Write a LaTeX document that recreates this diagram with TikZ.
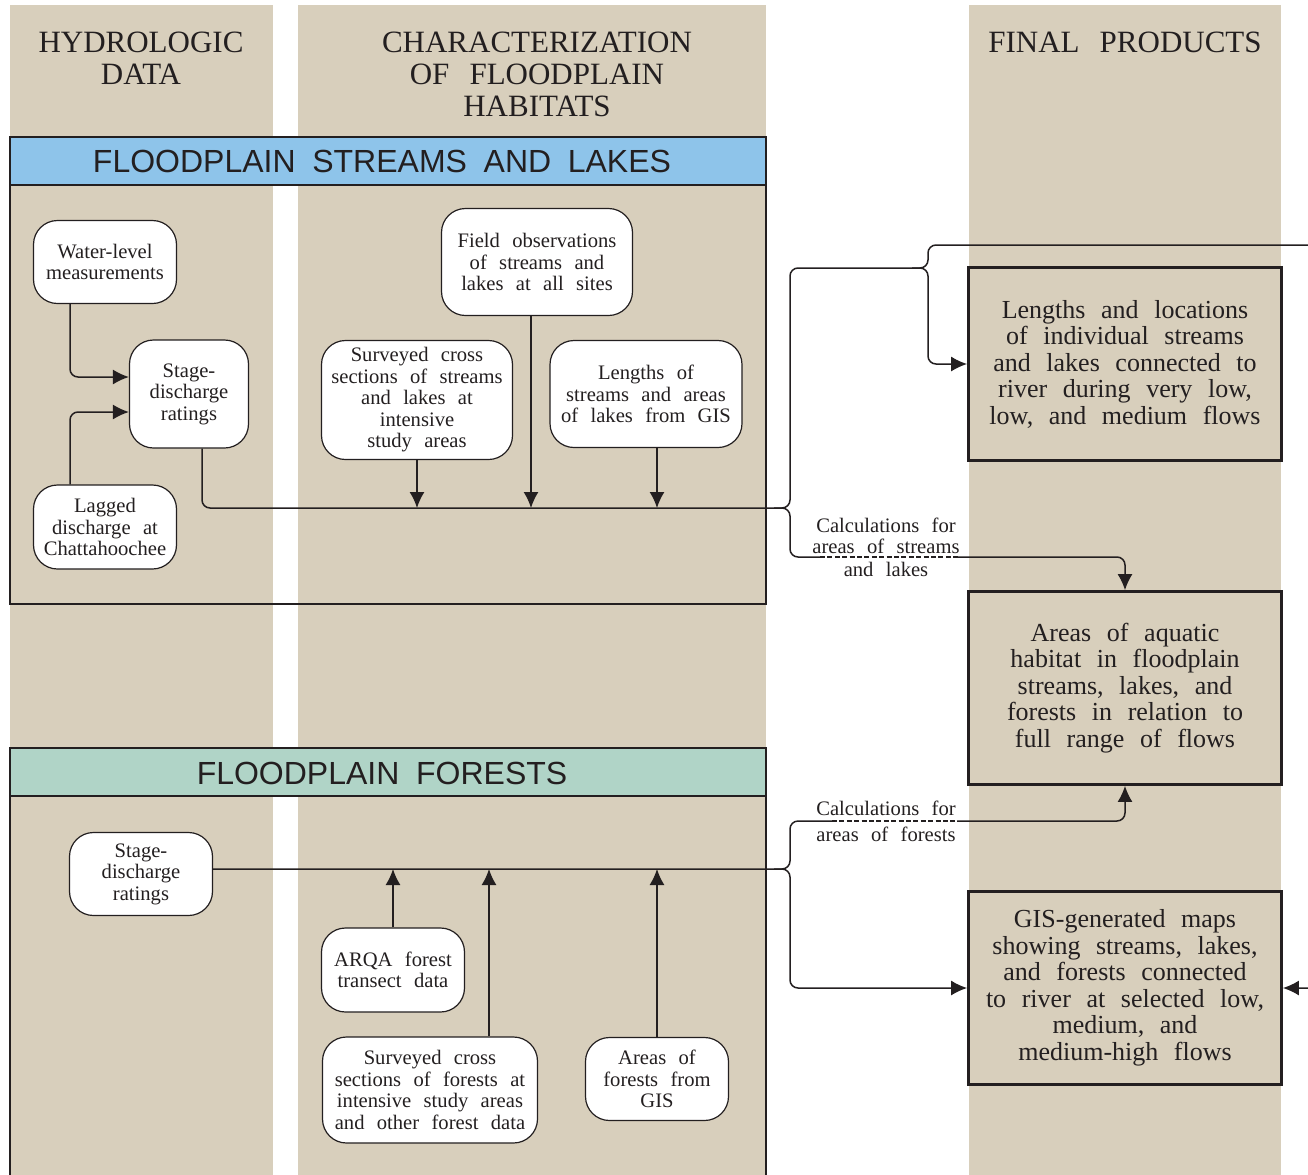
\documentclass[tikz,border=0pt]{standalone}
\usepackage{fontspec}
\setmainfont{Liberation Serif}
\setsansfont{Liberation Sans}
\usetikzlibrary{arrows.meta, positioning, calc}
\definecolor{ctan}{HTML}{D8CFBC}
\definecolor{cblue}{HTML}{8EC4EA}
\definecolor{cgreen}{HTML}{B0D4C7}
\definecolor{cink}{HTML}{231F20}
\newcommand\nodefont{\fontsize{10.3}{10.75}\selectfont\spaceskip=0.6em\relax}
\newcommand\prodfont{\fontsize{13}{13.25}\selectfont\spaceskip=0.6em\relax}
\newcommand\colheadfont{\fontsize{15.5}{16}\selectfont\spaceskip=0.65em\relax}
\newcommand\bannerfont{\sffamily\fontsize{16}{18}\selectfont\spaceskip=0.52em\relax}
\tikzset{
  every picture/.style={line width=0.75pt, color=cink},
  inbox/.style={draw=cink, fill=white, rounded corners=12pt, align=center, inner sep=0pt, line width=0.6pt, font=\nodefont},
  prodbox/.style={draw=cink, fill=ctan, line width=1.4pt, align=center, inner sep=0pt, minimum width=156.5pt, minimum height=96.5pt, font=\prodfont},
  colhead/.style={align=center, font=\colheadfont},
  banner/.style={font=\bannerfont},
  calcnote/.style={align=center, font=\nodefont},
  frame/.style={draw=cink, line width=1.4pt},
  conn/.style={line width=0.75pt, rounded corners=4pt},
  arrow/.style={conn, -{Latex[length=8pt, width=7.5pt]}},
  dashpart/.style={line width=0.75pt, dash pattern=on 2.5pt off 1.2pt},
}
\begin{document}
\begin{tikzpicture}[x=0.5pt, y=-0.5pt]
  \useasboundingbox (0,0) rectangle (1308,1174);
  % columns
  \fill[ctan] (10,5) rectangle (273,1190);
  \fill[ctan] (298,5) rectangle (766,1190);
  \fill[ctan] (969,5) rectangle (1281,1190);
  \node[colhead] (hhyd) at (141,58) {HYDROLOGIC\\DATA};
  \node[colhead] (hchar) at (537,74) {CHARACTERIZATION\\OF FLOODPLAIN\\HABITATS};
  \node[colhead] (hfin) at (1125,42) {FINAL PRODUCTS};
  % streams and lakes panel
  \draw[frame] (10,137) rectangle (766,604);
  \draw[frame, fill=cblue] (10,137) rectangle (766,185);
  \node[banner] (bstream) at (382,161) {FLOODPLAIN STREAMS AND LAKES};
  % forests panel
  \draw[frame] (10,748) rectangle (766,1200);
  \draw[frame, fill=cgreen] (10,748) rectangle (766,796);
  \node[banner] (bforest) at (382,773) {FLOODPLAIN FORESTS};

  \node[inbox, minimum width=71.5pt, minimum height=41.5pt] (wlm) at (105,262) {Water-level\\measurements};
  \node[inbox, minimum width=59.5pt, minimum height=54pt] (sdr) at (189,394) {Stage-\\discharge\\ratings};
  \node[inbox, minimum width=71.5pt, minimum height=42pt] (lag) at (105,527) {Lagged\\discharge at\\Chattahoochee};
  \node[inbox, minimum width=95.5pt, minimum height=53.5pt] (fobs) at (537,262) {Field observations\\of streams and\\lakes at all sites};
  \node[inbox, minimum width=95.5pt, minimum height=59.5pt] (xsec) at (417,400) {Surveyed cross\\sections of streams\\and lakes at\\intensive\\study areas};
  \node[inbox, minimum width=96pt, minimum height=53.5pt] (lgis) at (646,394) {Lengths of\\streams and areas\\of lakes from GIS};

  \node[inbox, minimum width=71.5pt, minimum height=41.5pt] (sdr2) at (141,874) {Stage-\\discharge\\ratings};
  \node[inbox, minimum width=71.5pt, minimum height=42pt] (arqa) at (393,970) {ARQA forest\\transect data};
  \node[inbox, minimum width=107.5pt, minimum height=53pt] (xfor) at (430,1090) {Surveyed cross\\sections of forests at\\intensive study areas\\and other forest data};
  \node[inbox, minimum width=71.5pt, minimum height=41.5pt] (agis) at (657,1079) {Areas of\\forests from\\GIS};

  \node[prodbox] (prod1) at (1125,364) {Lengths and locations\\of individual streams\\and lakes connected to\\river during very low,\\low, and medium flows};
  \node[prodbox] (prod2) at (1125,688) {Areas of aquatic\\habitat in floodplain\\streams, lakes, and\\forests in relation to\\full range of flows};
  \node[prodbox] (prod3) at (1125,988) {GIS-generated maps\\showing streams, lakes,\\and forests connected\\to river at selected low,\\medium, and\\medium-high flows};

  \coordinate (jstream) at (790,508);
  \coordinate (jup) at (928,268);
  \coordinate (rloop) at (1316,245);
  \coordinate (cs1) at (820,557);
  \coordinate (cs2) at (958,557);
  \coordinate (jforest) at (790,869);
  \coordinate (cf1) at (832,821);
  \coordinate (cf2) at (957,821);

  \draw[arrow] ([xshift=-17.5pt]wlm.south) |- ([yshift=8.5pt]sdr.west);
  \draw[arrow] ([xshift=-17.5pt]lag.north) |- ([yshift=-9pt]sdr.west);
  \draw[arrow] ([xshift=6.5pt]sdr.south) |- (jstream) |- (jup) |- (prod1.west);
  \draw[arrow] ([xshift=-8pt]jup) -- (jup) |- (rloop) |- (prod3.east);
  \draw[conn] ([xshift=-8pt]jstream) -- (jstream) |- (cs1);
  \draw[dashpart] (cs1) -- (cs2);
  \draw[arrow] (cs2) -| (prod2.north);
  \draw[arrow] (xsec.south) -- (xsec.south |- jstream);
  \draw[arrow] ([xshift=-3pt]fobs.south) -- ([xshift=-3pt]fobs.south |- jstream);
  \draw[arrow] ([xshift=5.5pt]lgis.south) -- ([xshift=5.5pt]lgis.south |- jstream);
  \node[calcnote] (ncs) at (886,536) {Calculations for\\areas of streams};
  \node[calcnote] (ncs2) at (886,569) {and lakes};

  \draw[conn] ([yshift=2.5pt]sdr2.east) -- (jforest) |- (cf1);
  \draw[dashpart] (cf1) -- (cf2);
  \draw[arrow] (cf2) -| (prod2.south);
  \draw[arrow] ([xshift=-8pt]jforest) -- (jforest) |- (prod3.west);
  \draw[arrow] (arqa.north) -- (arqa.north |- jforest);
  \draw[arrow] ([xshift=29.5pt]xfor.north) -- ([xshift=29.5pt]xfor.north |- jforest);
  \draw[arrow] (agis.north) -- (agis.north |- jforest);
  \node[calcnote] (ncf) at (886,808) {Calculations for};
  \node[calcnote] (ncf2) at (886,834) {areas of forests};
\end{tikzpicture}
\end{document}
